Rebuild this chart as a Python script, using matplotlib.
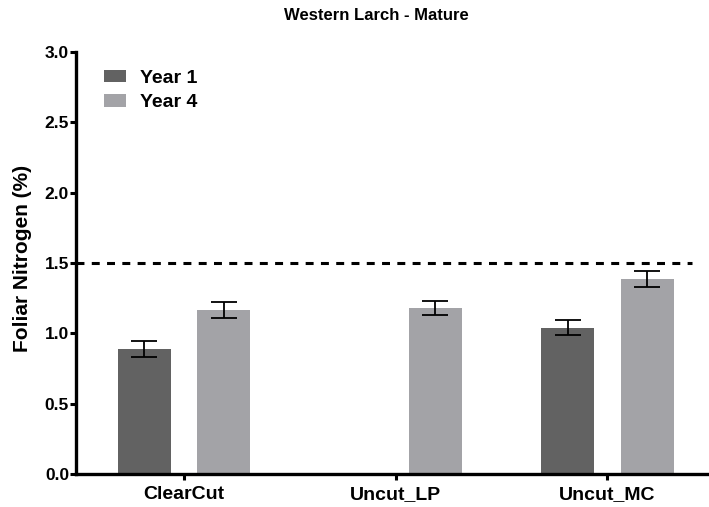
import numpy as np
import matplotlib
matplotlib.use("Agg")
import matplotlib.pyplot as plt

plt.rcParams['font.family'] = ['Liberation Sans', 'DejaVu Sans']

# Foliar nitrogen by site, mean and standard error
sites = ["ClearCut", "Uncut_LP", "Uncut_MC"]
year1_mean = [0.89, np.nan, 1.04]
year1_err = [0.055, np.nan, 0.055]
year4_mean = [1.165, 1.18, 1.385]
year4_err = [0.055, 0.052, 0.055]
threshold = 1.5

dark = "#626262"
light = "#a3a3a7"

fig = plt.figure(figsize=(7.09, 5.07), dpi=100)
ax = fig.add_axes([0.1072, 0.0651, 0.8928, 0.8323])

x = np.arange(len(sites))
w = 0.25
off = 0.1875

err_kw = dict(ecolor="black", elinewidth=1.3, capsize=9.4, capthick=1.3)
ax.bar(x - off, year1_mean, w, color=dark, label="Year 1",
       yerr=year1_err, error_kw=err_kw, zorder=2)
ax.bar(x + off, year4_mean, w, color=light, label="Year 4",
       yerr=year4_err, error_kw=err_kw, zorder=2)

ax.plot([-0.51, 2.40], [threshold, threshold], color="black", lw=2.2,
        dashes=(2.6, 2.4), zorder=3, clip_on=False)

ax.set_xlim(-0.51, 2.48)
ax.set_ylim(0, 3.0)
yt = np.arange(0, 3.01, 0.5)
ax.set_yticks(yt)
ax.set_yticklabels([f"{v:.1f}" for v in yt], fontsize=12.5, fontweight="bold")
ax.set_xticks(x)
ax.set_xticklabels(sites, fontsize=14, fontweight="bold")
ax.tick_params(axis="both", direction="out", length=4, width=2.2)
ax.tick_params(axis="y", pad=1)
ax.tick_params(axis="x", pad=5)

for s in ("top", "right"):
    ax.spines[s].set_visible(False)
for s in ("left", "bottom"):
    ax.spines[s].set_linewidth(2.4)

ax.set_ylabel("Foliar Nitrogen (%)", fontsize=15, fontweight="bold")
ax.yaxis.set_label_coords(-0.069, 0.512)

fig.text(376 / 709, 1 - 15 / 507, "Western Larch - Mature", ha="center",
         va="center", fontsize=12, fontweight="bold")

leg = ax.legend(loc="upper left", bbox_to_anchor=(0.044, 0.958), frameon=False,
                prop=dict(size=14, weight="bold"), handlelength=1.13,
                handleheight=0.62, handletextpad=0.72, labelspacing=0.37,
                borderpad=0, borderaxespad=0)

fig.savefig("out.png", dpi=100)
